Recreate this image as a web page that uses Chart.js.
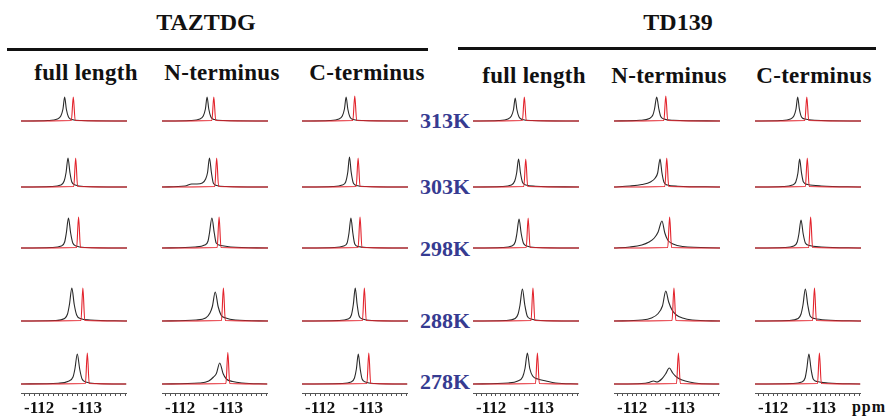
<!DOCTYPE html>
<html>
<head>
<meta charset="utf-8">
<script src="https://cdn.jsdelivr.net/npm/chart.js@4.4.1/dist/chart.umd.min.js"></script>
<style>
body { margin: 0; background: #fff; }
#fig { position: relative; width: 888px; height: 416px; overflow: hidden;
       font-family: "Liberation Serif", "Times New Roman", serif; font-weight: bold; color: #111; }
.t { position: absolute; white-space: nowrap; line-height: 1; transform: translateX(-50%); }
.rule { position: absolute; height: 3px; background: #111; }
canvas { position: absolute; }
</style>
</head>
<body>
<div id="fig"></div>
<script>
// labels
var groups = ['TAZTDG', 'TD139'];
var constructs = ['full length', 'N-terminus', 'C-terminus'];
var temps = ['313K', '303K', '298K', '288K', '278K'];
var ppmLabels = [-112, -113];
var ppmMin = -113.83, ppmMax = -111.62;

// 19F spectra, [ppm, intensity], one list per panel:
// TAZTDG full, N, C, TD139 full, N, C
var black313K = [
  [[-111.62,0],[-112.18,0.5],[-112.38,2],[-112.45,5],[-112.495,12],[-112.53,24],[-112.565,12],[-112.61,4],[-112.68,1.5],[-112.88,0.5],[-113.83,0]],
  [[-111.62,0],[-112.21,0.5],[-112.41,2],[-112.48,5],[-112.525,12],[-112.56,24],[-112.595,12],[-112.64,4],[-112.71,1.5],[-112.91,0.5],[-113.83,0]],
  [[-111.62,0],[-112.19,0.5],[-112.39,2],[-112.46,5],[-112.505,12],[-112.54,24],[-112.575,12],[-112.62,4],[-112.69,1.5],[-112.89,0.5],[-113.83,0]],
  [[-111.62,0],[-112.15,0.5],[-112.35,2],[-112.42,5],[-112.465,11.5],[-112.50,23],[-112.535,11.5],[-112.58,4],[-112.65,1.5],[-112.85,0.5],[-113.83,0]],
  [[-111.62,0],[-112.16,0.7],[-112.36,2.5],[-112.43,6],[-112.465,12],[-112.51,24],[-112.555,12],[-112.59,5],[-112.66,2],[-112.86,0.7],[-113.83,0]],
  [[-111.62,0],[-112.16,0.5],[-112.36,2],[-112.43,5],[-112.475,12],[-112.51,24],[-112.545,12],[-112.59,4],[-112.66,2],[-112.86,0.7],[-113.83,0]]
];
var red313K = [
  [[-111.62,0],[-112.67,0.5],[-112.71,24],[-112.75,0.5],[-113.83,0]],
  [[-111.62,0],[-112.66,0.5],[-112.70,24],[-112.74,0.5],[-113.83,0]],
  [[-111.62,0],[-112.68,0.5],[-112.72,25],[-112.76,0.5],[-113.83,0]],
  [[-111.62,0],[-112.65,0.5],[-112.69,24],[-112.73,0.5],[-113.83,0]],
  [[-111.62,0],[-112.66,0.5],[-112.70,25],[-112.74,0.5],[-113.83,0]],
  [[-111.62,0],[-112.66,0.5],[-112.70,24],[-112.74,0.5],[-113.83,0]]
];
var black303K = [
  [[-111.62,0],[-112.25,0.5],[-112.45,2],[-112.52,6],[-112.56,14.5],[-112.60,29],[-112.64,14.5],[-112.68,5],[-112.75,2],[-112.95,0.5],[-113.83,0]],
  [[-111.62,0],[-112.10,1],[-112.24,3],[-112.35,3],[-112.46,4],[-112.53,8],[-112.57,14.5],[-112.61,29],[-112.65,14.5],[-112.69,4],[-112.76,1.5],[-112.96,0.5],[-113.83,0]],
  [[-111.62,0],[-112.26,0.5],[-112.46,2],[-112.53,5],[-112.575,15],[-112.61,30],[-112.645,15],[-112.69,4],[-112.76,1.5],[-112.96,0.5],[-113.83,0]],
  [[-111.62,0],[-112.22,0.5],[-112.42,2],[-112.49,6],[-112.53,14],[-112.57,28],[-112.61,14],[-112.65,5],[-112.72,2],[-112.92,0.8],[-113.83,0]],
  [[-111.62,0],[-111.95,1],[-112.20,2.5],[-112.38,5],[-112.48,9],[-112.53,14],[-112.58,28],[-112.62,14],[-112.66,5],[-112.73,2],[-112.95,0.8],[-113.83,0]],
  [[-111.62,0],[-112.20,0.5],[-112.40,2],[-112.47,5],[-112.515,14],[-112.55,28],[-112.59,14],[-112.63,5],[-112.72,2.5],[-113.00,1],[-113.83,0]]
];
var red303K = [
  [[-111.62,0],[-112.72,0.5],[-112.76,29],[-112.80,0.5],[-113.83,0]],
  [[-111.62,0],[-112.72,0.5],[-112.76,29],[-112.80,0.5],[-113.83,0]],
  [[-111.62,0],[-112.75,0.5],[-112.79,29],[-112.83,0.5],[-113.83,0]],
  [[-111.62,0],[-112.68,0.5],[-112.72,28],[-112.76,0.5],[-113.83,0]],
  [[-111.62,0],[-112.68,0.5],[-112.72,29],[-112.76,0.5],[-113.83,0]],
  [[-111.62,0],[-112.67,0.5],[-112.71,29],[-112.75,0.5],[-113.83,0]]
];
var black298K = [
  [[-111.62,0],[-112.26,0.5],[-112.46,2],[-112.53,6],[-112.565,15],[-112.61,30],[-112.655,15],[-112.70,5],[-112.77,2],[-112.97,0.5],[-113.83,0]],
  [[-111.62,0],[-112.31,1],[-112.51,3],[-112.58,7],[-112.61,15],[-112.66,30],[-112.71,15],[-112.75,5],[-112.85,2.5],[-113.05,1],[-113.83,0]],
  [[-111.62,0],[-112.29,0.5],[-112.49,2],[-112.56,5],[-112.60,15],[-112.64,30],[-112.68,15],[-112.72,4],[-112.79,1.5],[-112.99,0.5],[-113.83,0]],
  [[-111.62,0],[-112.23,0.5],[-112.43,2],[-112.50,6],[-112.535,14.5],[-112.58,29],[-112.625,14.5],[-112.67,5],[-112.74,2],[-112.94,0.5],[-113.83,0]],
  [[-111.62,0],[-111.95,1],[-112.20,3],[-112.35,6],[-112.46,10],[-112.54,16],[-112.62,27],[-112.68,15],[-112.74,8],[-112.85,4],[-113.05,1.5],[-113.83,0]],
  [[-111.62,0],[-112.23,0.5],[-112.43,2],[-112.50,6],[-112.535,14],[-112.58,28],[-112.625,14],[-112.67,5],[-112.75,2.5],[-113.00,1],[-113.83,0]]
];
var red298K = [
  [[-111.62,0],[-112.78,0.5],[-112.82,31],[-112.86,0.5],[-113.83,0]],
  [[-111.62,0],[-112.77,0.5],[-112.81,31],[-112.85,0.5],[-113.83,0]],
  [[-111.62,0],[-112.79,0.5],[-112.83,31],[-112.87,0.5],[-113.83,0]],
  [[-111.62,0],[-112.73,0.5],[-112.77,30],[-112.81,0.5],[-113.83,0]],
  [[-111.62,0],[-112.74,0.5],[-112.78,31],[-112.82,0.5],[-113.83,0]],
  [[-111.62,0],[-112.74,0.5],[-112.78,31],[-112.82,0.5],[-113.83,0]]
];
var black288K = [
  [[-111.62,0],[-112.33,0.5],[-112.53,2.5],[-112.59,7],[-112.63,16.5],[-112.68,33],[-112.73,16.5],[-112.78,6],[-112.86,2.5],[-113.06,1],[-113.83,0]],
  [[-111.62,0],[-112.33,1],[-112.53,3],[-112.62,8],[-112.67,14.5],[-112.73,29],[-112.79,14.5],[-112.85,6],[-112.95,3],[-113.15,1],[-113.83,0]],
  [[-111.62,0],[-112.38,0.5],[-112.58,2],[-112.65,6],[-112.69,16.5],[-112.73,33],[-112.77,16.5],[-112.81,5],[-112.88,2],[-113.08,0.5],[-113.83,0]],
  [[-111.62,0],[-112.30,0.5],[-112.50,2.5],[-112.56,7],[-112.60,16],[-112.65,32],[-112.70,16],[-112.75,5],[-112.83,2],[-113.03,0.5],[-113.83,0]],
  [[-111.62,0],[-112.20,1],[-112.40,3],[-112.53,7],[-112.63,15],[-112.70,30],[-112.76,19],[-112.83,11],[-112.92,6],[-113.05,3],[-113.25,1],[-113.83,0]],
  [[-111.62,0],[-112.32,0.5],[-112.52,2.5],[-112.58,7],[-112.62,16],[-112.67,32],[-112.72,16],[-112.77,5],[-112.86,2.5],[-113.10,1],[-113.83,0]]
];
var red288K = [
  [[-111.62,0],[-112.87,0.5],[-112.91,33],[-112.95,0.5],[-113.83,0]],
  [[-111.62,0],[-112.86,0.5],[-112.90,33],[-112.94,0.5],[-113.83,0]],
  [[-111.62,0],[-112.88,0.5],[-112.92,33],[-112.96,0.5],[-113.83,0]],
  [[-111.62,0],[-112.83,0.5],[-112.87,33],[-112.91,0.5],[-113.83,0]],
  [[-111.62,0],[-112.83,0.5],[-112.87,33],[-112.91,0.5],[-113.83,0]],
  [[-111.62,0],[-112.82,0.5],[-112.86,33],[-112.90,0.5],[-113.83,0]]
];
var black278K = [
  [[-111.62,0],[-112.40,0.8],[-112.60,2.5],[-112.71,7],[-112.75,15],[-112.80,30],[-112.85,15],[-112.90,5],[-112.98,2],[-113.20,0.5],[-113.83,0]],
  [[-111.62,0],[-112.40,1],[-112.60,3],[-112.70,7],[-112.76,10.5],[-112.83,21],[-112.90,10.5],[-112.97,5],[-113.10,2.5],[-113.30,1],[-113.83,0]],
  [[-111.62,0],[-112.45,0.5],[-112.65,2],[-112.72,6],[-112.76,15],[-112.80,30],[-112.84,15],[-112.88,5],[-112.95,2],[-113.15,0.5],[-113.83,0]],
  [[-111.62,0],[-112.36,1],[-112.56,3],[-112.66,7],[-112.71,15.5],[-112.76,31],[-112.81,15.5],[-112.87,8],[-112.98,5],[-113.15,3],[-113.35,1],[-113.83,0]],
  [[-111.62,0],[-112.20,0.5],[-112.35,1.5],[-112.45,3],[-112.52,2],[-112.62,5],[-112.70,10],[-112.78,16],[-112.85,11],[-112.93,7],[-113.05,4],[-113.20,2],[-113.40,0.5],[-113.83,0]],
  [[-111.62,0],[-112.40,0.5],[-112.60,2],[-112.67,6],[-112.705,15],[-112.75,30],[-112.795,15],[-112.84,5],[-112.92,2.5],[-113.15,1],[-113.83,0]]
];
var red278K = [
  [[-111.62,0],[-112.97,0.5],[-113.01,31],[-113.05,0.5],[-113.83,0]],
  [[-111.62,0],[-112.96,0.5],[-113.00,31.5],[-113.04,0.5],[-113.83,0]],
  [[-111.62,0],[-112.98,0.5],[-113.02,31],[-113.06,0.5],[-113.83,0]],
  [[-111.62,0],[-112.93,0.5],[-112.97,31],[-113.01,0.5],[-113.83,0]],
  [[-111.62,0],[-112.93,0.5],[-112.97,31],[-113.01,0.5],[-113.83,0]],
  [[-111.62,0],[-112.93,0.5],[-112.97,31],[-113.01,0.5],[-113.83,0]]
];

var blackRows = [black313K, black303K, black298K, black288K, black278K];
var redRows = [red313K, red303K, red298K, red288K, red278K];

// layout
var colLeft = [21, 162, 302, 473, 614, 755];
var rowBase = [121, 186.5, 248, 320.5, 384];
var panelW = 106;
var fig = document.getElementById('fig');

function addText(txt, x, top, size, color, extra) {
  var d = document.createElement('div');
  d.className = 't';
  d.textContent = txt;
  d.style.left = x + 'px';
  d.style.top = top + 'px';
  d.style.fontSize = size + 'px';
  if (color) d.style.color = color;
  if (extra) d.style.letterSpacing = extra;
  fig.appendChild(d);
}

// group titles and rules
addText(groups[0], 206, 9.5, 24);
addText(groups[1], 678, 10, 24);
var r1 = document.createElement('div'); r1.className = 'rule';
r1.style.left = '7px'; r1.style.width = '421px'; r1.style.top = '47.5px';
fig.appendChild(r1);
var r2 = document.createElement('div'); r2.className = 'rule';
r2.style.left = '458px'; r2.style.width = '418px'; r2.style.top = '46.5px';
fig.appendChild(r2);

// column headers
var headX = [86, 222, 367, 534, 669, 814];
for (var c = 0; c < 6; c++) {
  addText(constructs[c % 3], headX[c], c < 3 ? 60.5 : 64, 23, null, '0.3px');
}

// temperatures
var tempTop = [109.6, 176, 238.3, 310, 371];
for (var r = 0; r < temps.length; r++) {
  addText(temps[r], 445, tempTop[r], 22, '#363b91');
}
addText('ppm', 869, 398.5, 16, null, '1px');

for (var r = 0; r < 5; r++) {
  for (var c = 0; c < 6; c++) {
    var last = (r === 4);
    var cv = document.createElement('canvas');
    cv.width = panelW;
    cv.height = last ? 75 : 45;
    cv.style.left = colLeft[c] + 'px';
    cv.style.top = (rowBase[r] - 36) + 'px';
    fig.appendChild(cv);

    new Chart(cv, {
      type: 'line',
      data: {
        datasets: [
          { data: redRows[r][c], borderColor: '#e3232c', borderWidth: 1.1, fill: false },
          { data: blackRows[r][c], borderColor: '#2a2a2a', borderWidth: 1.1, fill: false }
        ]
      },
      options: {
        responsive: false,
        animation: false,
        layout: { padding: 0 },
        elements: { point: { radius: 0 }, line: { cubicInterpolationMode: 'monotone' } },
        plugins: { legend: { display: false }, tooltip: { enabled: false } },
        scales: {
          x: {
            type: 'linear',
            reverse: true,
            min: ppmMin,
            max: ppmMax,
            display: last,
            afterFit: last ? function (s) { s.height = 30; } : undefined,
            border: { display: true, color: '#555', width: 1 },
            grid: { drawOnChartArea: false, tickLength: 3, color: '#555' },
            ticks: {
              stepSize: 0.1,
              includeBounds: false,
              autoSkip: false,
              maxRotation: 0,
              padding: 2,
              color: '#111',
              font: { family: '"Liberation Serif", serif', weight: 'bold', size: 17 },
              callback: function (v) {
                var n = Math.round(v);
                return (Math.abs(v - n) < 1e-6 && ppmLabels.indexOf(n) >= 0) ? String(n) : '';
              }
            }
          },
          y: { display: false, min: -9, max: 36 }
        }
      }
    });
  }
}
</script>
</body>
</html>
